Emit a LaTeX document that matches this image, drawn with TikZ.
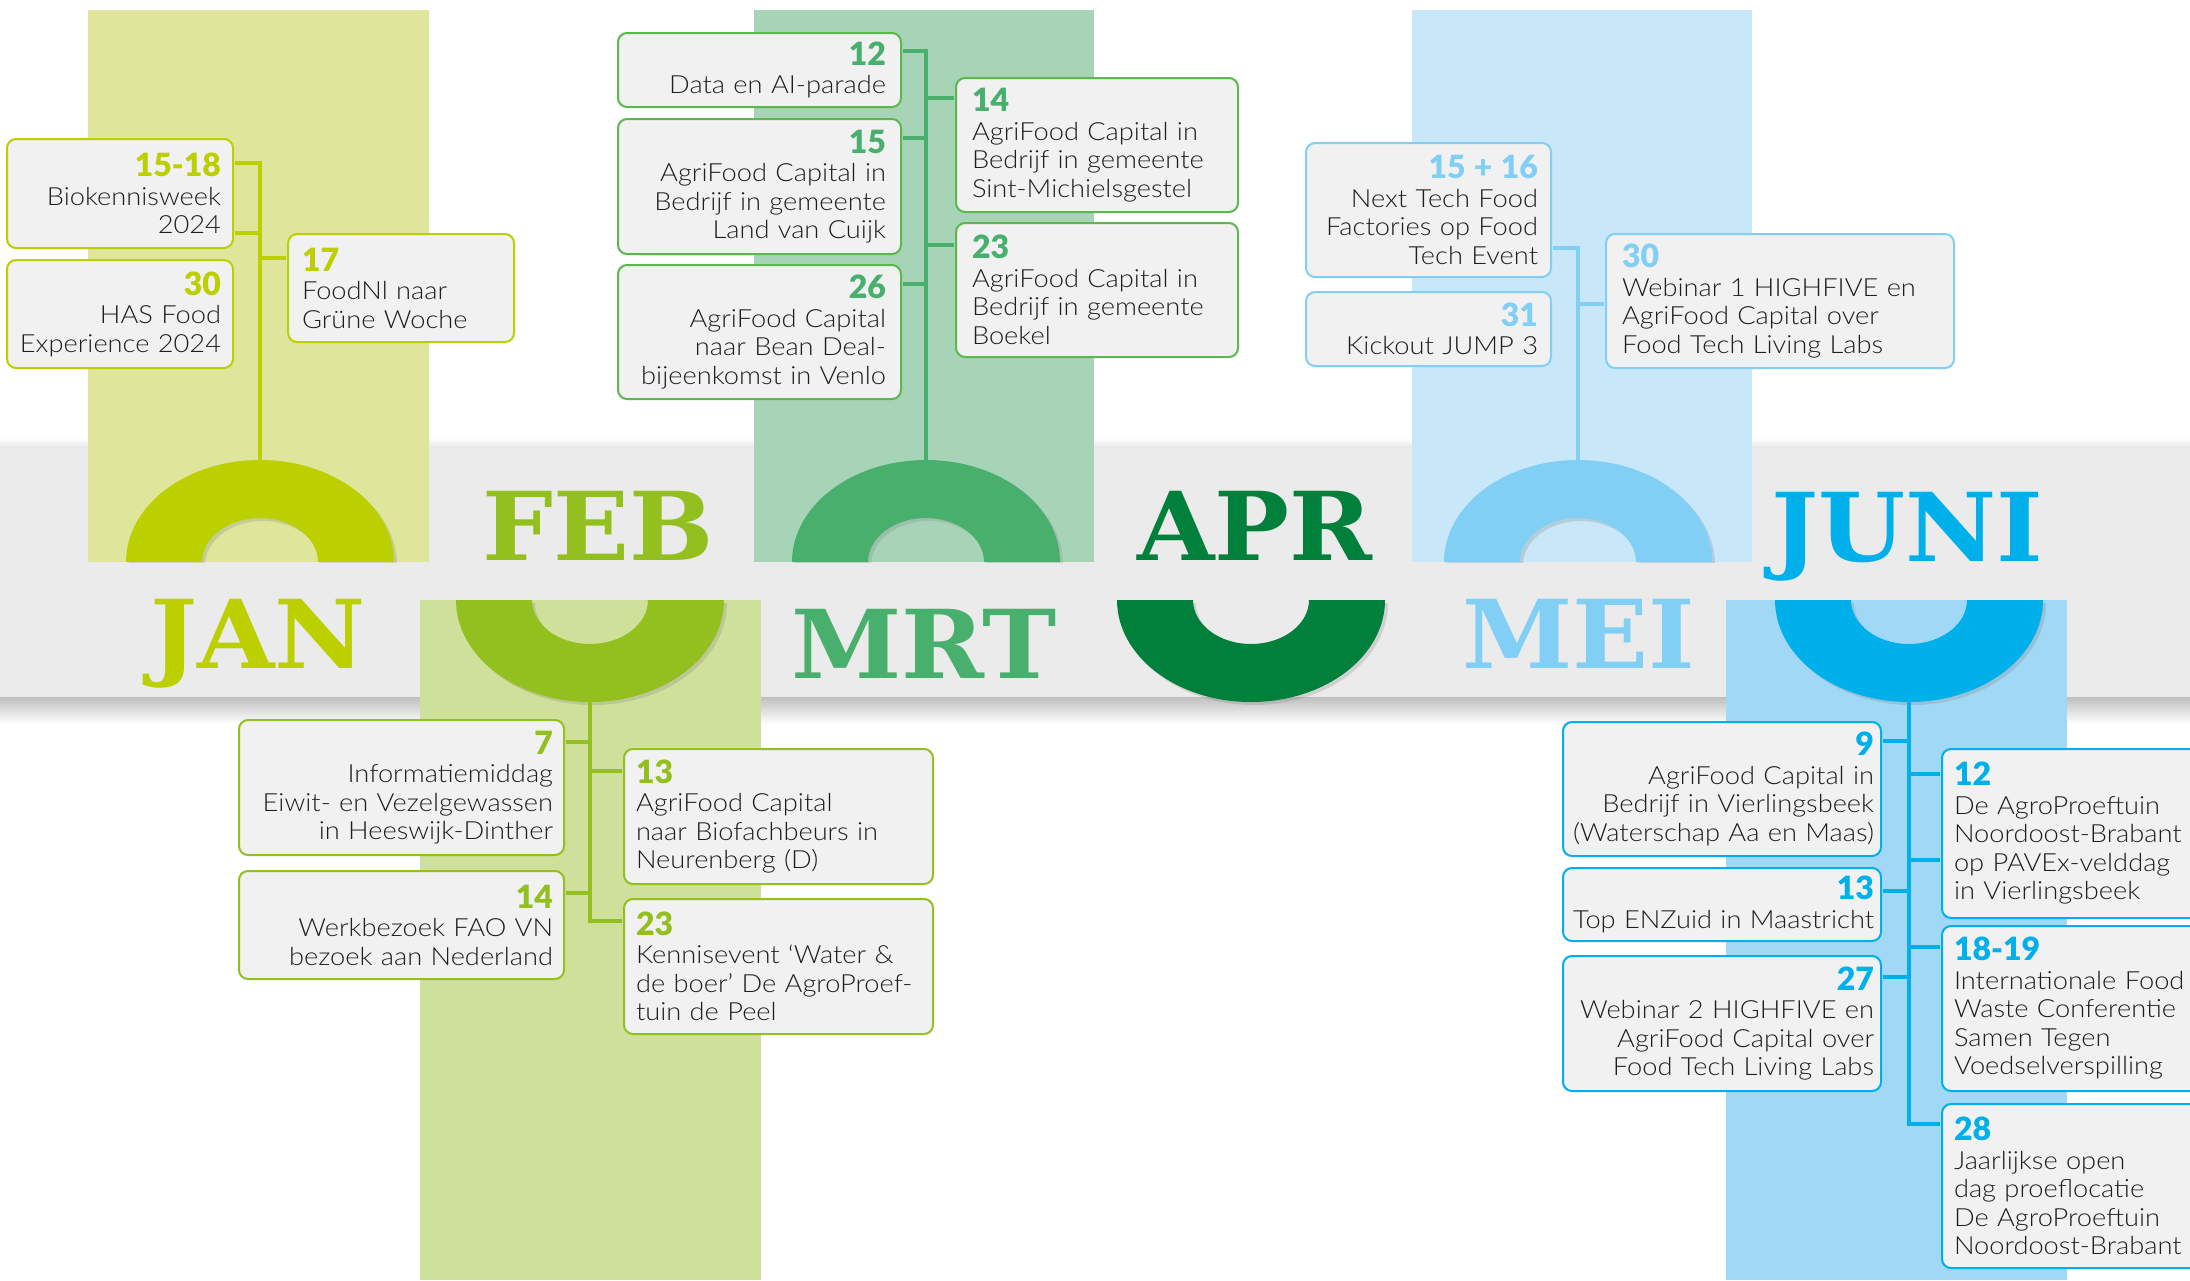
\documentclass[tikz,border=0pt]{standalone}
\usepackage{fontspec}
\setmainfont{Lato Light}[FakeStretch=1.09]
\newfontfamily\datefont{Lato Black}
\newfontfamily\monthfont{DejaVu Serif}[FakeStretch=1.05]
\usepackage{tikz}
\usetikzlibrary{calc,shadows}

\definecolor{jan}{HTML}{BCD000}
\definecolor{jancol}{HTML}{DFE69B}
\definecolor{feb}{HTML}{93C01F}
\definecolor{febcol}{HTML}{CFE09B}
\definecolor{mrt}{HTML}{49AF6D}
\definecolor{mrtbox}{HTML}{5AB84E}
\definecolor{mrtcol}{HTML}{A7D4B7}
\definecolor{apr}{HTML}{00803A}
\definecolor{mei}{HTML}{81CFF4}
\definecolor{meicol}{HTML}{C8E7F8}
\definecolor{juni}{HTML}{00B0EB}
\definecolor{junicol}{HTML}{A0D8F5}
\definecolor{band}{HTML}{EBEBEB}
\definecolor{boxbg}{HTML}{F1F1F1}
\definecolor{txt}{HTML}{1E1E1E}

\newcommand{\evdate}[2]{{\color{#1}\datefont\fontsize{32}{28.5}\selectfont #2}}

\begin{document}
\begin{tikzpicture}[x=1pt, y=-1pt,
  evt/.style={draw=#1, fill=boxbg, line width=2pt, rounded corners=9pt, inner ysep=0pt,
    anchor=north west, text=txt, font=\fontsize{25}{28.5}\selectfont},
  lft/.style={align=right},
  rgt/.style={align=left},
  link/.style={draw=#1, line width=3.5pt, shorten >=1pt},
  mon/.style={text=#1, font=\monthfont\bfseries\fontsize{95}{95}\selectfont, anchor=base, inner sep=0pt},
  archshadow/.style={drop shadow={shadow xshift=3pt, shadow yshift=-3pt, opacity=.25}}]
\useasboundingbox (0,0) rectangle (2190,1280);
\fill[white] (0,0) rectangle (2190,1280);

% timeline band
\shade[top color=white, bottom color=black!10] (0,438) rectangle (2190,448);
\fill[band] (0,448) rectangle (2190,697);
\shade[top color=black!25, bottom color=white] (0,697) rectangle (2190,724);

% month columns
\foreach \xa/\xb/\col in {88/429/jancol, 754/1094/mrtcol, 1412/1752/meicol}
  \fill[\col] (\xa,10) rectangle (\xb,562);
\foreach \xa/\xb/\col in {420/761/febcol, 1726/2067/junicol}
  \fill[\col] (\xa,600) rectangle (\xb,1280);

% arches
\foreach \cx/\col in {260/jan, 926/mrt, 1578/mei}{
  \begin{scope}
    \clip (\cx-180,400) rectangle (\cx+180,562);
    \fill[\col, archshadow] (\cx-134,562) arc[start angle=180, end angle=360, x radius=134, y radius=102]
      -- (\cx+58,562) arc[start angle=0, end angle=-180, x radius=58, y radius=44] -- cycle;
  \end{scope}
}
\foreach \cx/\col in {590/feb, 1251/apr, 1909/juni}
  \fill[\col, archshadow] (\cx-134,600) arc[start angle=180, end angle=0, x radius=134, y radius=102]
    -- (\cx+58,600) arc[start angle=0, end angle=180, x radius=58, y radius=44] -- cycle;

% month names
\node[mon=jan] (janlbl) at (258,668) {JAN};
\node[mon=feb] (feblbl) at (598,560) {FEB};
\node[mon=mrt] (mrtlbl) at (924,678) {MRT};
\node[mon=apr] (aprlbl) at (1255,560) {APR};
\node[mon=mei] (meilbl) at (1579,668) {MEI};
\node[mon=juni] (junilbl) at (1907,561) {JUNI};

\coordinate (janhub) at (260,460);
\coordinate (febhub) at (590,702);
\coordinate (mrthub) at (926,460);
\coordinate (meihub) at (1578,460);
\coordinate (junihub) at (1909,702);

% januari
\node[evt=jan, lft, inner xsep=12pt, text width=202pt, minimum height=109pt] (j1) at (6,138) {\evdate{jan}{15-18}\\Biokennisweek\\2024};
\node[evt=jan, lft, inner xsep=12pt, text width=202pt, minimum height=108pt] (j2) at (6,259) {\evdate{jan}{30}\\HAS Food\\Experience 2024};
\node[evt=jan, rgt, inner xsep=14pt, text width=198pt, minimum height=108pt] (j3) at (287,233) {\evdate{jan}{17}\\FoodNl naar\\Grüne Woche};
\draw[link=jan] (janhub) |- ([yshift=-25pt]j1.north east);
\draw[link=jan] (janhub) |- ([yshift=16pt]j1.south east);
\draw[link=jan] (janhub) |- ([yshift=-25pt]j3.north west);

% februari
\node[evt=feb, lft, inner xsep=11pt, text width=303pt, minimum height=135pt] (f1) at (238,719) {\evdate{feb}{7}\\Informatiemiddag\\Eiwit- en Vezelgewassen\\in Heeswijk-Dinther};
\node[evt=feb, lft, inner xsep=11pt, text width=303pt, minimum height=108pt] (f2) at (238,870) {\evdate{feb}{14}\\Werkbezoek FAO VN\\bezoek aan Nederland};
\node[evt=feb, rgt, inner xsep=12pt, text width=285pt, minimum height=135pt] (f3) at (623,748) {\evdate{feb}{13}\\AgriFood Capital\\naar Biofachbeurs in\\Neurenberg (D)};
\node[evt=feb, rgt, inner xsep=12pt, text width=285pt, minimum height=135pt] (f4) at (623,898) {\evdate{feb}{23}\\Kennisevent `Water \&\\de boer' De AgroProef-\\tuin de Peel};
\foreach \n/\a in {f1/north east, f2/north east, f3/north west, f4/north west}
  \draw[link=feb] (febhub) |- ([yshift=-23pt]\n.\a);

% maart
\node[evt=mrtbox, lft, inner xsep=15pt, text width=253pt, minimum height=74pt] (m1) at (617,32) {\evdate{mrt}{12}\\Data en AI-parade};
\node[evt=mrtbox, lft, inner xsep=15pt, text width=253pt, minimum height=135pt] (m2) at (617,118) {\evdate{mrt}{15}\\AgriFood Capital in\\Bedrijf in gemeente\\Land van Cuijk};
\node[evt=mrtbox, lft, inner xsep=15pt, text width=253pt, minimum height=134pt] (m3) at (617,264) {\evdate{mrt}{26}\\AgriFood Capital\\naar Bean Deal-\\bijeenkomst in Venlo};
\node[evt=mrtbox, rgt, inner xsep=16pt, text width=250pt, minimum height=134pt] (m4) at (955,77) {\evdate{mrt}{14}\\AgriFood Capital in\\Bedrijf in gemeente\\Sint-Michielsgestel};
\node[evt=mrtbox, rgt, inner xsep=16pt, text width=250pt, minimum height=134pt] (m5) at (955,222) {\evdate{mrt}{23}\\AgriFood Capital in\\Bedrijf in gemeente\\Boekel};
\foreach \n/\a/\s in {m1/north east/19, m2/north east/20, m3/north east/20, m4/north west/21, m5/north west/23}
  \draw[link=mrt] (mrthub) |- ([yshift=-\s pt]\n.\a);

% mei
\node[evt=mei, lft, inner xsep=13pt, text width=219pt, minimum height=134pt] (e1) at (1305,142) {\evdate{mei}{15 + 16}\\Next Tech Food\\Factories op Food\\Tech Event};
\node[evt=mei, lft, inner xsep=13pt, text width=219pt, minimum height=74pt] (e2) at (1305,291) {\evdate{mei}{31}\\Kickout JUMP 3};
\node[evt=mei, rgt, inner xsep=16pt, text width=316pt, minimum height=134pt] (e3) at (1605,233) {\evdate{mei}{30}\\Webinar 1 HIGHFIVE en\\AgriFood Capital over\\Food Tech Living Labs};
\draw[link=mei] (meihub) |- ([yshift=30pt]e1.south east);
\draw[link=mei] (meihub) |- ([yshift=-71pt]e3.north west);

% juni
\node[evt=juni, lft, inner xsep=7pt, text width=304pt, minimum height=134pt] (u1) at (1562,721) {\evdate{juni}{9}\\AgriFood Capital in\\Bedrijf in Vierlingsbeek\\(Waterschap Aa en Maas)};
\node[evt=juni, lft, inner xsep=7pt, text width=304pt, minimum height=73pt] (u2) at (1562,867) {\evdate{juni}{13}\\Top ENZuid in Maastricht};
\node[evt=juni, lft, inner xsep=7pt, text width=304pt, minimum height=135pt] (u3) at (1562,955) {\evdate{juni}{27}\\Webinar 2 HIGHFIVE en\\AgriFood Capital over\\Food Tech Living Labs};
\node[evt=juni, rgt, inner xsep=12pt, text width=296pt, minimum height=169pt] (u4) at (1941,748) {\evdate{juni}{12}\\De AgroProeftuin\\Noordoost-Brabant\\op PAVEx-velddag\\in Vierlingsbeek};
\node[evt=juni, rgt, inner xsep=12pt, text width=296pt, minimum height=165pt] (u5) at (1941,925) {\evdate{juni}{18-19}\\Internationale Food\\Waste Conferentie\\Samen Tegen\\Voedselverspilling};
\node[evt=juni, rgt, inner xsep=12pt, text width=296pt, minimum height=164pt] (u6) at (1941,1103) {\evdate{juni}{28}\\Jaarlijkse open\\dag proeflocatie\\De AgroProeftuin\\Noordoost-Brabant};
\foreach \n/\a/\s in {u1/north east/20, u2/north east/24, u3/north east/22, u4/north west/26, u4/north west/112, u5/north west/22, u6/north west/21}
  \draw[link=juni] (junihub) |- ([yshift=-\s pt]\n.\a);
\end{tikzpicture}
\end{document}
